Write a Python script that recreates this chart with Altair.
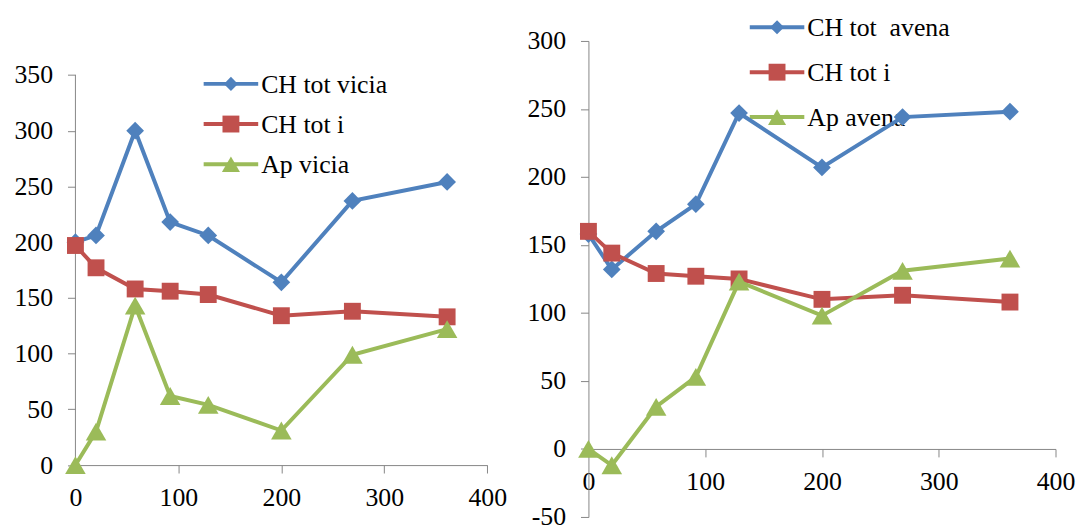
import altair as alt
import pandas as pd

# ---------------- data ----------------
days = [0, 20, 58, 92, 129, 200, 269, 361]

ch_tot_vicia = [200, 206, 300, 218, 206, 164, 237, 254]
ch_tot_i_vicia = [197, 177, 158, 156, 153, 134, 138, 133]
ap_vicia = [0, 30, 143, 62, 54, 31, 99, 122]

ch_tot_avena = [158, 132, 160, 180, 247, 207, 244, 248]
ch_tot_i_avena = [160, 144, 129, 127, 125, 110, 113, 108]
ap_avena = [0, -12, 31, 53, 123, 98, 131, 140]

names_left = ["CH tot vicia", "CH tot i", "Ap vicia"]
names_right = ["CH tot\u00a0 avena", "CH tot i", "Ap avena"]

x_ticks = [0, 100, 200, 300, 400]
y_ticks_left = [0, 50, 100, 150, 200, 250, 300, 350]
y_ticks_right = [-50, 0, 50, 100, 150, 200, 250, 300]

# ---------------- style ----------------
FONT = "Liberation Serif"
GRAY = "#868686"
colors = ["#4F81BD", "#C0504D", "#9BBB59"]
shapes = ["diamond", "square", "triangle-up"]
sizes = [320, 290, 430]
legend_sizes = [200, 290, 330]
LABEL_EXPR = "replace(datum.label, '\u2212', '-')"


def panel(series, names, width, height, y_domain, y_ticks, x_offset,
          leg_x, leg_y, leg_step, manual_y_domain, anchor=None):
    xenc = alt.X(
        "day:Q",
        scale=alt.Scale(domain=[0, 400], nice=False, zero=False),
        axis=alt.Axis(values=x_ticks, offset=x_offset, title=None,
                      labelFlush=False, labelOverlap=False, grid=False,
                      labelFont=FONT, labelFontSize=26, labelColor="black",
                      labelPadding=12, tickSize=8, tickColor=GRAY,
                      domainColor=GRAY),
    )
    yenc = alt.Y(
        "value:Q",
        scale=alt.Scale(domain=y_domain, nice=False, zero=False),
        axis=alt.Axis(values=y_ticks, title=None, grid=False,
                      domain=not manual_y_domain, labelOverlap=False,
                      labelFont=FONT, labelFontSize=26, labelColor="black",
                      labelPadding=15, tickSize=8, tickColor=GRAY,
                      domainColor=GRAY, labelExpr=LABEL_EXPR),
    )
    layers = []
    if anchor is not None:
        # invisible layout anchor fixing the chart's top-left extent
        ax, ay = anchor
        layers.append(
            alt.Chart(pd.DataFrame({"a": [0]}))
            .mark_rect(opacity=0)
            .encode(x=alt.value(ax), x2=alt.value(ax + 1),
                    y=alt.value(ay), y2=alt.value(ay + 1))
        )
    if manual_y_domain:
        layers.append(
            alt.Chart(pd.DataFrame({"value": [y_ticks[0]], "value2": [y_ticks[-1]]}))
            .mark_rule(color=GRAY, strokeWidth=1)
            .encode(x=alt.value(0), y=yenc, y2="value2:Q")
        )
    # legend
    for i, name in enumerate(names):
        ly = leg_y + i * leg_step
        src = alt.Chart(pd.DataFrame({"label": [name]}))
        layers.append(src.mark_rule(color=colors[i], strokeWidth=4).encode(
            x=alt.value(leg_x), x2=alt.value(leg_x + 55), y=alt.value(ly)))
        layers.append(src.mark_point(shape=shapes[i], filled=True, opacity=1,
                                     color=colors[i], size=legend_sizes[i]).encode(
            x=alt.value(leg_x + 27.5), y=alt.value(ly)))
        layers.append(src.mark_text(align="left", baseline="middle", font=FONT,
                                    fontSize=26, color="black").encode(
            x=alt.value(leg_x + 58), y=alt.value(ly + 1), text="label:N"))
    # data
    for i, vals in enumerate(series):
        df = pd.DataFrame({"day": days, "value": vals})
        base = alt.Chart(df)
        layers.append(base.mark_line(color=colors[i], strokeWidth=4).encode(x=xenc, y=yenc))
        layers.append(base.mark_point(shape=shapes[i], filled=True, opacity=1,
                                      color=colors[i], size=sizes[i]).encode(x=xenc, y=yenc))
    return alt.layer(*layers).properties(width=width, height=height)


PLOT_TOP = 39.0            # top of both plot areas on the page
LEFT_X, LEFT_W = 75.7, 415.3
RIGHT_X, RIGHT_W = 592.3, 471.0

left_px_per_unit = (466.7 - 73.3) / 350
left_h = 466.7 - PLOT_TOP
left = panel([ch_tot_vicia, ch_tot_i_vicia, ap_vicia], names_left,
             width=LEFT_W, height=left_h, y_domain=[0, left_h / left_px_per_unit],
             y_ticks=y_ticks_left, x_offset=0,
             leg_x=129.3, leg_y=43.3, leg_step=40.5, manual_y_domain=True,
             anchor=(8 - LEFT_X, 8 - PLOT_TOP))

right_h = 480
right = panel([ch_tot_avena, ch_tot_i_avena, ap_avena], names_right,
              width=RIGHT_W, height=right_h, y_domain=[-50, 300],
              y_ticks=y_ticks_right, x_offset=-(right_h * 50 / 350),
              leg_x=162.7, leg_y=-13.8, leg_step=45.3, manual_y_domain=False)

chart = (
    alt.hconcat(left, right, spacing=RIGHT_X - (LEFT_X + LEFT_W), bounds="flush")
    .properties(padding={"left": 0, "top": 0, "right": 5, "bottom": 5})
    .configure_view(stroke=None)
    .configure_axis(labelFont=FONT, labelFontSize=26, labelColor="black",
                    domainColor=GRAY, tickColor=GRAY, tickSize=8,
                    domainWidth=1, tickWidth=1)
    .configure_axisX(labelPadding=12)
    .configure_axisY(labelPadding=15)
)

chart.save("out.html", embed_options={"renderer": "svg", "actions": False})
